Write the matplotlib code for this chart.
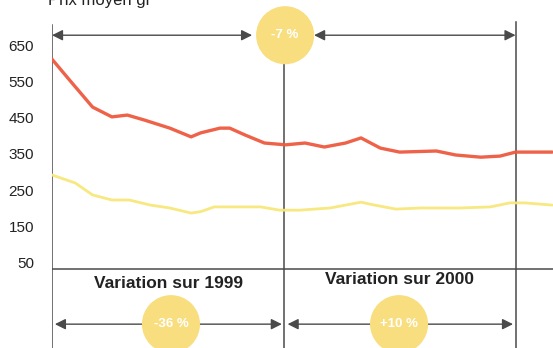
import matplotlib
matplotlib.use("Agg")
import matplotlib.pyplot as plt

plt.rcParams['font.family'] = ['Liberation Sans', 'DejaVu Sans']

# Monthly price curves (months counted from January 1999)
red_months = [0, 0.9, 2.1, 3.1, 3.9, 4.8, 6.1, 7.2, 7.7, 8.7, 9.2, 10.0, 11.0,
              12.1, 13.1, 14.1, 15.2, 16.0, 17.0, 18.0, 19.9, 20.9, 22.2, 23.2,
              24.0, 25.9]
red_values = [611, 554, 479, 452, 457, 443, 421, 397, 408, 421, 421, 402, 380,
              375, 380, 369, 380, 394, 366, 355, 358, 347, 341, 344, 355, 355]

yellow_months = [0, 1.2, 2.1, 3.1, 4.0, 5.1, 6.1, 7.2, 7.7, 8.4, 9.7, 10.8,
                 11.8, 12.8, 14.4, 15.2, 16.0, 16.7, 17.8, 19.1, 21.1, 22.7,
                 23.7, 24.5, 25.9]
yellow_values = [292, 270, 237, 223, 223, 209, 201, 187, 191, 204, 204, 204,
                 195, 195, 201, 209, 217, 209, 198, 201, 201, 204, 215, 215, 209]

y_ticks = [50, 150, 250, 350, 450, 550, 650]
year_labels = ["Variation sur 1999", "Variation sur 2000"]
top_badge = "-7 %"
bottom_badges = ["-36 %", "+10 %"]

W, H = 553, 348
fig = plt.figure(figsize=(W / 100, H / 100), dpi=100)
fig.patch.set_facecolor('white')
left = 52 / W
ax = fig.add_axes([left, 0, 1 - left, 1])
ax.set_xlim(0, 25.94)
ax.set_ylim(-184.7, 774)
for s in ax.spines.values():
    s.set_visible(False)
ax.set_xticks([])
ax.set_yticks(y_ticks)
ax.set_yticklabels([str(v) for v in y_ticks], fontsize=11, color='#222222')
ax.tick_params(axis='y', length=0, pad=13)

grey = '#4a4a4a'
base = 33
# Base line and year separators
ax.plot([0, 25.94], [base, base], color=grey, lw=1.1, zorder=2)
ax.plot([0, 0], [-184.7, 705], color=grey, lw=1.1, zorder=2)
ax.plot([12.0, 12.0], [-184.7, 677], color=grey, lw=1.1, zorder=2)
ax.plot([24.0, 24.0], [-184.7, 713], color=grey, lw=1.1, zorder=2)

# Curves
ax.plot(red_months, red_values, color='#EE5A3F', lw=2.4, alpha=0.95,
        solid_capstyle='round', solid_joinstyle='round', zorder=3)
ax.plot(yellow_months, yellow_values, color='#F7E77A', lw=2.0, alpha=0.95,
        solid_capstyle='round', solid_joinstyle='round', zorder=3)

# Double arrows
arrow_kw = dict(arrowstyle='<|-|>', color=grey, lw=1.0,
                mutation_scale=16, shrinkA=0, shrinkB=0)
top_y, bot_y = 677, -119
ax.annotate('', xy=(10.36, top_y), xytext=(0, top_y), arrowprops=arrow_kw, zorder=4)
ax.annotate('', xy=(24.0, top_y), xytext=(13.57, top_y), arrowprops=arrow_kw, zorder=4)
ax.annotate('', xy=(11.9, bot_y), xytext=(0.15, bot_y), arrowprops=arrow_kw, zorder=4)
ax.annotate('', xy=(23.87, bot_y), xytext=(12.2, bot_y), arrowprops=arrow_kw, zorder=4)

# Percentage badges
badge_color = '#F9DE80'
badges = [(12.07, top_y, top_badge), (6.16, bot_y, bottom_badges[0]),
          (17.97, bot_y, bottom_badges[1])]
for bx, by, txt in badges:
    ax.scatter([bx], [by], s=1750, color=badge_color, edgecolors='none', zorder=5)
    ax.text(bx, by, txt, ha='center', va='center', fontsize=9.5,
            fontweight='bold', color='white', zorder=6)

# Year labels
ax.text(6.05, -7, year_labels[0], ha='center', va='center', fontsize=12.5,
        fontweight='bold', color='#222222', zorder=4)
ax.text(18.0, 5, year_labels[1], ha='center', va='center', fontsize=12.5,
        fontweight='bold', color='#222222', zorder=4)

# Heading (runs off the top edge)
fig.text(48 / W, 1 - 5 / H, "Prix moyen gr", ha='left', va='baseline',
         fontsize=12, color='#222222')

fig.savefig('out.png', dpi=100, facecolor='white')
